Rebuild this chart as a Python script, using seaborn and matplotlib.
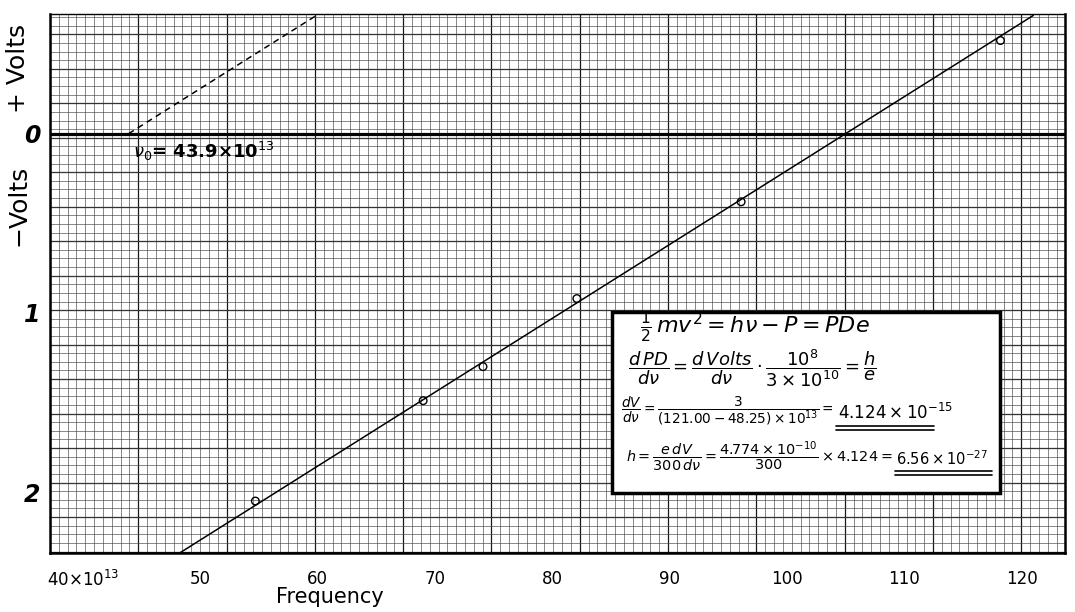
import numpy as np
import pandas as pd
import matplotlib
matplotlib.use("Agg")
import matplotlib.pyplot as plt
from matplotlib.ticker import MultipleLocator, FixedLocator
from matplotlib.patches import Rectangle
from matplotlib.lines import Line2D
import seaborn as sns

# measured points (frequency in 10^13 Hz, stopping potential in volts)
freq = [54.7, 69.0, 74.1, 82.1, 96.1, 118.2]
volts = [-2.05, -1.49, -1.30, -0.92, -0.38, 0.52]

# fitted line and the shifted (dashed) line through nu_0
line_freq = [48.25, 121.00]
line_volts = [-2.34, 0.66]
dash_freq = [43.9, 60.0]
dash_volts = [0.0, 0.664]

xticks = [40, 50, 60, 70, 80, 90, 100, 110, 120]
xticklabels = ["40×10$^{13}$", "50", "60", "70", "80", "90", "100", "110", "120"]
yticks = [0, -1, -2]
yticklabels = ["0", "1", "2"]

sns.set_style("white")
plt.rcParams["font.family"] = ["DejaVu Sans"]
plt.rcParams["mathtext.fontset"] = "dejavusans"
plt.rcParams["text.color"] = "black"
plt.rcParams["xtick.color"] = "black"
plt.rcParams["ytick.color"] = "black"

fig = plt.figure(figsize=(10.75, 6.12), dpi=100)
pos = [50 / 1075, 1 - 553 / 612, 1015 / 1075, 539 / 612]

# graph paper underneath
paper = fig.add_axes(pos, zorder=0)
paper.set_xlim(0, 1015)
paper.set_ylim(0, 539)
paper.xaxis.set_major_locator(MultipleLocator(88.3))
paper.xaxis.set_minor_locator(MultipleLocator(8.83))
paper.yaxis.set_major_locator(FixedLocator(np.arange(1.5, 539, 34.5)))
paper.yaxis.set_minor_locator(FixedLocator(np.arange(1.5, 539, 8.62)))
paper.grid(which="major", color="#1a1a1a", lw=0.9)
paper.grid(which="minor", color="#444444", lw=0.45)
paper.tick_params(which="both", length=0, labelbottom=False, labelleft=False)
for s in paper.spines.values():
    s.set_visible(False)

ax = fig.add_axes(pos, zorder=1)
ax.patch.set_alpha(0)

df_pts = pd.DataFrame({"freq": freq, "volts": volts})
df_line = pd.DataFrame({"freq": line_freq, "volts": line_volts})
df_dash = pd.DataFrame({"freq": dash_freq, "volts": dash_volts})

ax.axhline(0, color="black", lw=2.3, zorder=2)
sns.lineplot(data=df_line, x="freq", y="volts", color="black", lw=1.1, ax=ax, zorder=3)
sns.lineplot(data=df_dash, x="freq", y="volts", color="black", lw=1.1, ax=ax,
             linestyle=(0, (4, 3)), zorder=3)
sns.scatterplot(data=df_pts, x="freq", y="volts", marker="o", s=30,
                facecolor="none", edgecolor="black", linewidth=1.0, ax=ax, zorder=4)

ax.set_xlim(37.2, 123.7)
ax.set_ylim(-2.34, 0.668)
ax.set_xticks(xticks)
ax.set_xticklabels(xticklabels, fontsize=12)
ax.set_yticks(yticks)
ax.set_yticklabels(yticklabels, fontsize=17, fontweight="bold", fontstyle="italic")
ax.tick_params(axis="x", length=0, pad=12)
ax.tick_params(axis="y", length=0, pad=7)
ax.set_xlabel("")
ax.set_ylabel("")
for name, s in ax.spines.items():
    s.set_visible(True)
    s.set_color("black")
    s.set_linewidth(1.0 if name == "top" else 1.8)

ax.text(44.3, -0.10, r"$\nu_0$= 43.9×10$^{13}$", fontsize=13, fontweight="bold",
        ha="left", va="center", zorder=5)

fig.text(18 / 1075, 1 - 68 / 612, "+ Volts", rotation=90, fontsize=18,
         ha="center", va="center")
fig.text(18 / 1075, 1 - 205 / 612, "−Volts", rotation=90, fontsize=18,
         ha="center", va="center")
fig.text(330 / 1075, 1 - 597 / 612, "Frequency", fontsize=15, ha="center",
         va="center")

# formula box
bx0, by0 = (612 - 50) / 1015, (553 - 493) / 539
bw, bh = 388 / 1015, 181 / 539
ax.add_patch(Rectangle((bx0, by0), bw, bh, transform=ax.transAxes,
                       facecolor="white", edgecolor="black", lw=2.5, zorder=6))


def px(x, y):
    return ((x - 50) / 1015, (553 - y) / 539)


# (text, x, y, fontsize, alignment)
lines = [
    (r"$\frac{1}{2}\,mv^2 = h\nu - P = PDe$", 640, 327, 16, "left"),
    (r"$\dfrac{d\,PD}{d\nu} = \dfrac{d\,Volts}{d\nu}\cdot\dfrac{10^8}{3\times10^{10}} = \dfrac{h}{e}$", 628, 368, 13, "left"),
    (r"$\dfrac{dV}{d\nu} = \dfrac{3}{(121.00-48.25)\times10^{13}} =$", 834, 411, 9.8, "right"),
    (r"$4.124\times10^{-15}$", 838, 413, 12, "left"),
    (r"$h = \dfrac{e\,dV}{300\,d\nu} = \dfrac{4.774\times10^{-10}}{300}\times4.124 =$", 893, 457, 10.4, "right"),
    (r"$6.56\times10^{-27}$", 896, 459, 10.5, "left"),
]
for txt, x, y, fs, ha in lines:
    tx, ty = px(x, y)
    ax.text(tx, ty, txt, transform=ax.transAxes, fontsize=fs, ha=ha,
            va="center", zorder=7)

# double underlines of the results
for (x0, x1, y) in [(836, 934, 426), (836, 934, 430), (895, 992, 471), (895, 992, 475)]:
    (ux0, uy), (ux1, _) = px(x0, y), px(x1, y)
    ax.add_line(Line2D([ux0, ux1], [uy, uy], transform=ax.transAxes,
                       color="black", lw=1.2, zorder=7))

fig.savefig("out.png", dpi=100)
